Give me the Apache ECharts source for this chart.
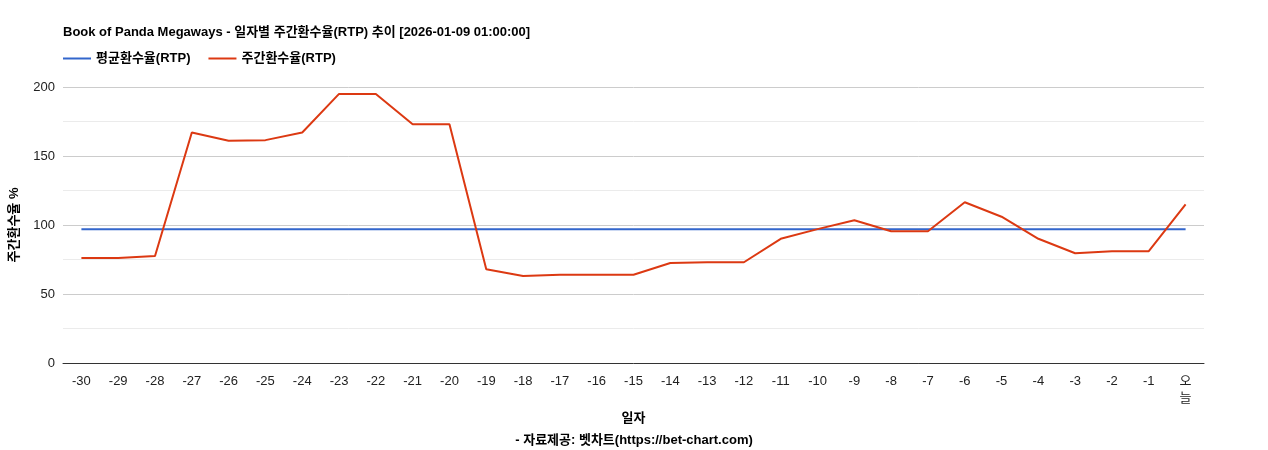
<!DOCTYPE html>
<html><head><meta charset="utf-8">
<script src="https://cdn.jsdelivr.net/npm/echarts@6/dist/echarts.min.js"></script>
<style>html,body{margin:0;padding:0;background:#fff}#c{width:1268px;height:450px}</style>
</head><body><div id="c"></div>
<script>
const categories = ['-30','-29','-28','-27','-26','-25','-24','-23','-22','-21','-20','-19','-18','-17','-16','-15','-14','-13','-12','-11','-10','-9','-8','-7','-6','-5','-4','-3','-2','-1','오늘'];
const weeklyRTP = [76,76,77.5,167,161,161.5,167,195,195,173,173,68,63,64,64,64,72.5,73,73,90,97,103.5,95.5,95.5,116.5,106,90,79.5,81,81,115];
const avgValue = 97;
const avgRTP = categories.map(() => avgValue);
const font = '"Liberation Sans", Arial, "Noto Sans CJK KR", sans-serif';
const chart = echarts.init(document.getElementById('c'));
chart.setOption({
  animation: false,
  textStyle: { fontFamily: font },
  title: [
    { text: 'Book of Panda Megaways - 일자별 주간환수율(RTP) 추이 [2026-01-09 01:00:00]', left: 58, top: 21,
      textStyle: { fontSize: 13, fontWeight: 'bold', color: '#000', fontFamily: font } },
    { text: '- 자료제공: 벳차트(https://bet-chart.com)', left: 'center', top: 429,
      textStyle: { fontSize: 13, fontWeight: 'bold', color: '#000', fontFamily: font } }
  ],
  legend: { left: 58, top: 47, itemWidth: 28, itemHeight: 2, itemGap: 18, icon: 'rect',
    textStyle: { fontSize: 13, fontWeight: 'bold', color: '#000', fontFamily: font },
    data: ['평균환수율(RTP)', '주간환수율(RTP)'] },
  grid: { left: 63, right: 64, top: 87, bottom: 87 },
  xAxis: { type: 'category', data: categories, boundaryGap: true,
    name: '일자', nameLocation: 'middle', nameGap: 46,
    nameTextStyle: { fontSize: 13, fontWeight: 'bold', color: '#000', fontFamily: font },
    axisLine: { lineStyle: { color: '#333' } }, axisTick: { show: false },
    axisLabel: { color: '#222', fontSize: 13, interval: 0, margin: 10, lineHeight: 17, fontFamily: font,
      formatter: v => v === '오늘' ? '오\n늘' : v } },
  yAxis: { type: 'value', min: 0, max: 200, interval: 50,
    name: '주간환수율 %', nameLocation: 'middle', nameGap: 42, nameRotate: 90,
    nameTextStyle: { fontSize: 13, fontWeight: 'bold', color: '#000', fontFamily: font },
    axisLabel: { color: '#222', fontSize: 13, fontFamily: font },
    splitLine: { lineStyle: { color: '#ccc' } },
    minorTick: { show: false, splitNumber: 2 },
    minorSplitLine: { show: true, lineStyle: { color: '#ebebeb' } } },
  series: [
    { name: '평균환수율(RTP)', type: 'line', data: avgRTP, symbol: 'none',
      lineStyle: { color: '#3366cc', width: 2 }, itemStyle: { color: '#3366cc' } },
    { name: '주간환수율(RTP)', type: 'line', data: weeklyRTP, symbol: 'none',
      lineStyle: { color: '#dc3912', width: 2 }, itemStyle: { color: '#dc3912' } }
  ]
});
</script></body></html>
